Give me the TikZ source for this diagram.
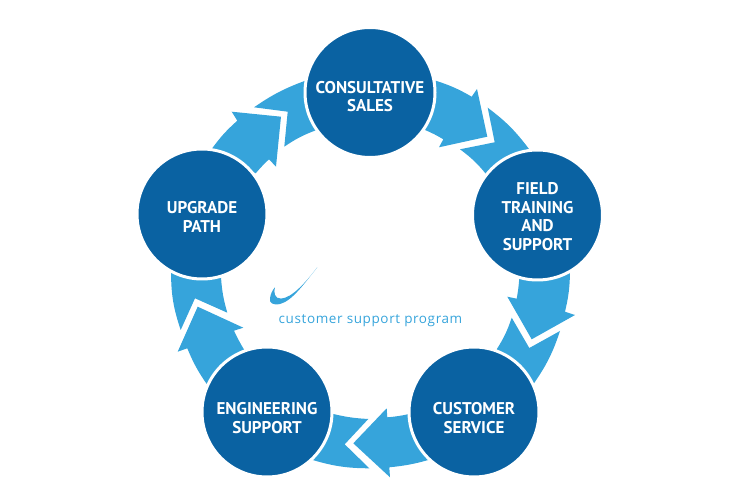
\documentclass[tikz,border=0pt]{standalone}
\usepackage{xcolor}
\usepackage{fontspec}
\setmainfont{PT Sans}
\newfontfamily\logofont[LetterSpace=4.5]{Open Sans}
\usepackage{tikz}
\usetikzlibrary{shapes,calc,positioning}
\definecolor{ringblue}{RGB}{10,98,162}
\definecolor{arrowblue}{RGB}{54,164,219}

\begin{document}
\begin{tikzpicture}[x=1pt,y=-1pt,bend angle=7]
	\tikzstyle{stage} = [draw=white,line width=3pt,circle,fill=ringblue,inner sep=0pt,outer sep=0pt,minimum size=130pt]
	\tikzstyle{caption} = [text=white,inner sep=0pt,align=center,font=\fontsize{17}{18.5}\selectfont\bfseries]
	\tikzstyle{piece} = [fill=arrowblue,draw=none]
	\useasboundingbox (0,0) rectangle (740,502);
	
	% consultative sales to field training
	\fill[piece] (435.7,80.7) to[bend left=6] (471.7,96.7) -- (477,89) -- (487.3,136.7) -- (439,147.3) -- (443.3,139.3) to[bend right=4] (425,130) -- cycle;
	\fill[piece] (487.7,107.7) to[bend left=8] (529,149) -- (486,174) to[bend right=7] (460,149.3) -- (494.7,142.3) -- cycle;
	% field training to customer service
	\fill[piece] (570,272.7) to[bend left=6] (565,311.7) -- (575,315) -- (531.7,339.3) -- (507.3,296.7) -- (516.7,298.7) to[bend right=3] (519.3,277.7) -- cycle;
	\fill[piece] (560,331) to[bend left=8] (534,383.3) -- (496.7,349.3) to[bend right=7] (511.7,317.7) -- (529.3,348) -- cycle;
	% customer service to engineering support
	\fill[piece] (428.3,460) to[bend left=5] (389.3,467.3) -- (390,477.3) -- (353.3,443.3) -- (386.7,408.3) -- (387.3,417.3) to[bend right=4] (409,414) -- cycle;
	\fill[piece] (369.3,468.3) to[bend left=8] (312.7,460) -- (333.3,414) to[bend right=5] (368.3,419) -- (344.7,444.3) -- cycle;
	% engineering support to upgrade path
	\fill[piece] (206.7,384) to[bend left=6] (187.3,348.3) -- (177.7,351.7) -- (197.7,306.7) -- (243.3,327.7) -- (234,330.7) to[bend right=3] (244.3,350) -- cycle;
	\fill[piece] (180.7,330) to[bend left=9] (171,272.3) -- (221,277.3) to[bend right=6] (227.3,312.7) -- (195,298.3) -- cycle;
	% upgrade path to consultative sales
	\fill[piece] (211.7,149) to[bend left=6] (237.3,120.7) -- (231.7,111.7) -- (281,116.7) -- (276,166.7) -- (269,159.3) to[bend right=3] (255.7,173.3) -- cycle;
	\fill[piece] (254,107.3) to[bend left=7] (305.3,80.7) -- (316.7,130) to[bend right=7] (284.3,146.7) -- (287.7,111.7) -- cycle;
	
	\node[stage] (T1) at (370,92.5) {};
	\node[stage] (T2) at (537.5,215) {};
	\node[stage] (T3) at (474,412) {};
	\node[stage] (T4) at (267,412) {};
	\node[stage] (T5) at (202,214) {};
	\node[caption] (S1) at ([yshift=-4pt]T1.center) {CONSULTATIVE\\SALES};
	\node[caption] (S2) at ([yshift=-1.5pt]T2.center) {FIELD\\TRAINING\\AND\\SUPPORT};
	\node[caption] (S3) at ([yshift=-6pt]T3.center) {CUSTOMER\\SERVICE};
	\node[caption] (S4) at ([yshift=-6pt]T4.center) {ENGINEERING\\SUPPORT};
	\node[caption] (S5) at ([yshift=-3pt]T5.center) {UPGRADE\\PATH};
	
	% logo under the ring
	\fill[arrowblue] (317.3,267.3) .. controls (304,284) and (292,301) .. (280,304) .. controls (273,305.5) and (269,303) .. (270,298.3) .. controls (270.5,294) and (272.5,290) .. (275,287.3) .. controls (273.5,292) and (274.5,299) .. (281,298.6) .. controls (292,298) and (306,282) .. cycle;
	\node[font=\logofont\fontsize{13.5}{14}\selectfont,text=arrowblue,inner sep=0pt] (L1) at (370.5,321) {customer support program};
\end{tikzpicture}
\end{document}
